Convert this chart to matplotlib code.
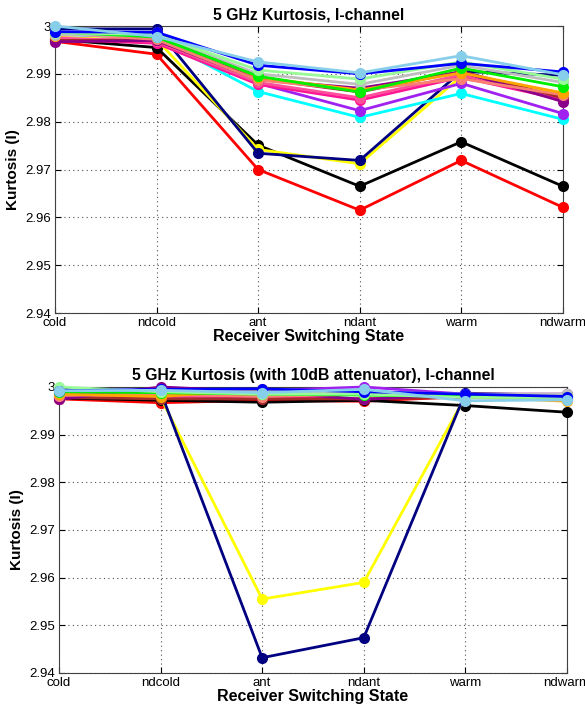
import matplotlib
matplotlib.use("Agg")
import matplotlib.pyplot as plt

plt.rcParams['font.family'] = ['Liberation Sans', 'DejaVu Sans']

states = ["cold", "ndcold", "ant", "ndant", "warm", "ndwarm"]
yticks = [2.94, 2.95, 2.96, 2.97, 2.98, 2.99, 3.00]
yticklabels = ["2.94", "2.95", "2.96", "2.97", "2.98", "2.99", "3"]

colors = ["red", "black", "yellow", "navy", "cyan", "#a020f0", "#ff1493",
          "#ff4f9a", "#a52a2a", "#8b008b", "#fa8072", "orange", "#bebebe",
          "#00ee00", "#98fb98", "blue", "#87ceeb"]

# Top panel (no attenuator)
top_red = [2.9968, 2.9941, 2.9700, 2.9615, 2.9719, 2.9621]
top_black = [2.9972, 2.9955, 2.9751, 2.9665, 2.9758, 2.9665]
top_yellow = [2.9975, 2.9972, 2.9742, 2.9712, 2.9895, 2.9860]
top_navy = [2.9994, 2.9994, 2.9734, 2.9719, 2.9905, 2.9897]
top_cyan = [2.9983, 2.9975, 2.9863, 2.9809, 2.9859, 2.9805]
top_violet = [2.9970, 2.9972, 2.9880, 2.9823, 2.9880, 2.9817]
top_deeppink = [2.9972, 2.9964, 2.9878, 2.9845, 2.9893, 2.9846]
top_hotpink = [2.9975, 2.9968, 2.9882, 2.9850, 2.9898, 2.9852]
top_brown = [2.9970, 2.9970, 2.9890, 2.9862, 2.9905, 2.9850]
top_purple = [2.9967, 2.9970, 2.9888, 2.9870, 2.9904, 2.9842]
top_salmon = [2.9985, 2.9972, 2.9887, 2.9866, 2.9890, 2.9856]
top_orange = [2.9980, 2.9987, 2.9893, 2.9866, 2.9902, 2.9860]
top_silver = [2.9982, 2.9980, 2.9900, 2.9878, 2.9918, 2.9882]
top_green = [2.9988, 2.9977, 2.9895, 2.9862, 2.9912, 2.9873]
top_lightgreen = [2.9986, 2.9982, 2.9908, 2.9889, 2.9925, 2.9889]
top_blue = [2.9988, 2.9987, 2.9918, 2.9900, 2.9922, 2.9904]
top_skyblue = [3.0000, 2.9978, 2.9925, 2.9902, 2.9938, 2.9898]

# Bottom panel (with 10dB attenuator)
bot_red = [2.9975, 2.9967, 2.9972, 2.9970, 2.9980, 2.9975]
bot_black = [2.9977, 2.9972, 2.9968, 2.9972, 2.9961, 2.9947]
bot_yellow = [2.9980, 2.9978, 2.9555, 2.9590, 2.9980, 2.9972]
bot_navy = [2.9995, 2.9990, 2.9432, 2.9474, 2.9987, 2.9982]
bot_cyan = [2.9988, 2.9990, 2.9990, 2.9993, 2.9978, 2.9978]
bot_violet = [2.9985, 2.9990, 2.9992, 3.0000, 2.9985, 2.9983]
bot_deeppink = [2.9980, 2.9978, 2.9978, 2.9975, 2.9982, 2.9975]
bot_hotpink = [2.9983, 2.9980, 2.9982, 2.9985, 2.9980, 2.9978]
bot_brown = [2.9978, 2.9975, 2.9975, 2.9975, 2.9978, 2.9975]
bot_purple = [2.9974, 3.0000, 2.9990, 2.9974, 2.9985, 2.9985]
bot_salmon = [2.9982, 2.9985, 2.9980, 2.9985, 2.9980, 2.9975]
bot_orange = [2.9985, 2.9980, 2.9995, 2.9985, 2.9980, 2.9970]
bot_silver = [2.9990, 2.9992, 2.9990, 2.9990, 2.9985, 2.9985]
bot_green = [2.9990, 2.9988, 2.9985, 2.9983, 2.9980, 2.9978]
bot_lightgreen = [3.0000, 2.9990, 2.9985, 2.9985, 2.9978, 2.9978]
bot_blue = [2.9992, 2.9995, 2.9996, 2.9990, 2.9985, 2.9980]
bot_skyblue = [2.9992, 2.9993, 2.9988, 2.9995, 2.9971, 2.9973]

top_series = [top_red, top_black, top_yellow, top_navy, top_cyan, top_violet,
              top_deeppink, top_hotpink, top_brown, top_purple, top_salmon,
              top_orange, top_silver, top_green, top_lightgreen, top_blue,
              top_skyblue]
bot_series = [bot_red, bot_black, bot_yellow, bot_navy, bot_cyan, bot_violet,
              bot_deeppink, bot_hotpink, bot_brown, bot_purple, bot_salmon,
              bot_orange, bot_silver, bot_green, bot_lightgreen, bot_blue,
              bot_skyblue]

fig = plt.figure(figsize=(5.85, 7.09), dpi=100)
ax1 = fig.add_axes([0.094, 0.5585, 0.868, 0.4048])
ax2 = fig.add_axes([0.1009, 0.0508, 0.8681, 0.4034])

x = list(range(len(states)))


def style(ax, title):
    ax.set_xlim(0, 5)
    ax.set_ylim(2.94, 3.0)
    ax.set_xticks(x)
    ax.set_xticklabels(states, fontsize=9.5)
    ax.set_yticks(yticks)
    ax.set_yticklabels(yticklabels, fontsize=9.5)
    ax.tick_params(direction='in', length=4, width=0.8, top=True, right=True,
                   pad=3)
    ax.grid(True, linestyle=(0, (1, 3)), color='#505050', linewidth=0.8)
    for s in ax.spines.values():
        s.set_linewidth(0.8)
        s.set_color('#404040')
    ax.set_title(title, fontsize=11.3, fontweight='bold', pad=5)
    ax.set_xlabel("Receiver Switching State", fontsize=11.5, fontweight='bold',
                  labelpad=0)
    ax.set_ylabel("Kurtosis (I)", fontsize=11, fontweight='bold', labelpad=4)


for vals, c in zip(top_series, colors):
    ax1.plot(x, vals, '-o', color=c, lw=2.0, ms=7, clip_on=False, zorder=3)
for vals, c in zip(bot_series, colors):
    ax2.plot(x, vals, '-o', color=c, lw=2.0, ms=7, clip_on=False, zorder=3)

style(ax1, "5 GHz Kurtosis, I-channel")
style(ax2, "5 GHz Kurtosis (with 10dB attenuator), I-channel")

fig.savefig("out.png", dpi=100)
